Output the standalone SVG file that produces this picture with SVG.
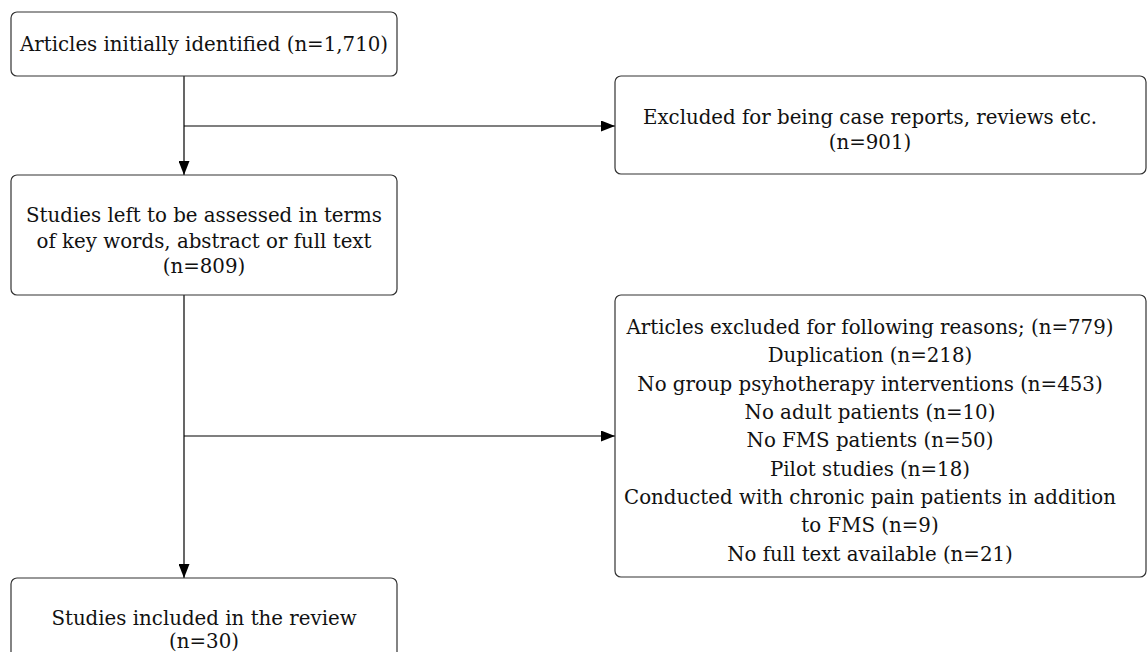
<svg xmlns="http://www.w3.org/2000/svg" width="1148" height="652" viewBox="0 0 1148 652">
<defs>
<marker id="arr" viewBox="0 0 14 11" refX="14" refY="5.5" markerWidth="14" markerHeight="11" markerUnits="userSpaceOnUse" orient="auto">
<path d="M0,0 L14,5.5 L0,11 Z" fill="#000"/>
</marker>
<style>
.box{fill:#fff;stroke:#333;stroke-width:1.2}
.t{font-family:"DejaVu Serif","Liberation Serif",serif;font-size:19.8px;fill:#111;text-anchor:middle}
.c{fill:none;stroke:#000;stroke-width:1.2}
</style>
</defs>
<rect width="1148" height="652" fill="#fff"/>
<g id="connectors">
<line class="c" x1="184" y1="76" x2="184" y2="175" marker-end="url(#arr)"/>
<line class="c" x1="184" y1="126" x2="615" y2="126" marker-end="url(#arr)"/>
<line class="c" x1="184" y1="295" x2="184" y2="578" marker-end="url(#arr)"/>
<line class="c" x1="184" y1="436" x2="615" y2="436" marker-end="url(#arr)"/>
</g>
<g id="n1">
<rect class="box" x="11" y="12" width="386" height="64" rx="6"/>
<text class="t" x="204" y="51">Articles initially identified (n=1,710)</text>
</g>
<g id="n2">
<rect class="box" x="615" y="76" width="531" height="98" rx="6"/>
<text class="t" x="870" y="124">Excluded for being case reports, reviews etc.</text>
<text class="t" x="870" y="149">(n=901)</text>
</g>
<g id="n3">
<rect class="box" x="11" y="175" width="386" height="120" rx="6"/>
<text class="t" x="204" y="222">Studies left to be assessed in terms</text>
<text class="t" x="204" y="248">of key words, abstract or full text</text>
<text class="t" x="204" y="273">(n=809)</text>
</g>
<g id="n4">
<rect class="box" x="615" y="295" width="531" height="282" rx="6"/>
<text class="t" x="870" y="334">Articles excluded for following reasons; (n=779)</text>
<text class="t" x="870" y="362">Duplication (n=218)</text>
<text class="t" x="870" y="391">No group psyhotherapy interventions (n=453)</text>
<text class="t" x="870" y="419">No adult patients (n=10)</text>
<text class="t" x="870" y="447">No FMS patients (n=50)</text>
<text class="t" x="870" y="476">Pilot studies (n=18)</text>
<text class="t" x="870" y="504">Conducted with chronic pain patients in addition</text>
<text class="t" x="870" y="532">to FMS (n=9)</text>
<text class="t" x="870" y="561">No full text available (n=21)</text>
</g>
<g id="n5">
<rect class="box" x="11" y="578" width="386" height="90" rx="6"/>
<text class="t" x="204" y="625">Studies included in the review</text>
<text class="t" x="204" y="648">(n=30)</text>
</g>
</svg>
